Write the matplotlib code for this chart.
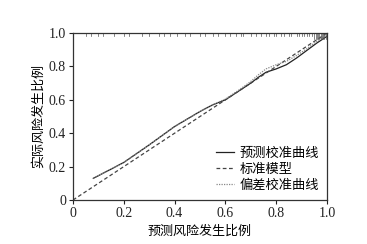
import matplotlib.pyplot as plt
from matplotlib.ticker import FuncFormatter

# calibration curves
pred_x = [0.08, 0.15, 0.2, 0.3, 0.4, 0.5, 0.55, 0.6, 0.65, 0.7, 0.73, 0.76, 0.8, 0.84, 0.88, 0.92, 0.96, 1.0]
pred_y = [0.13, 0.185, 0.225, 0.33, 0.44, 0.53, 0.57, 0.60, 0.65, 0.70, 0.735, 0.765, 0.785, 0.81, 0.85, 0.895, 0.94, 0.98]
bias_y = [0.13, 0.185, 0.225, 0.33, 0.44, 0.53, 0.57, 0.605, 0.655, 0.71, 0.75, 0.785, 0.81, 0.83, 0.865, 0.905, 0.95, 0.99]
ideal = [0, 1]

# rug of predicted values on the top edge
rug = [0.05, 0.07, 0.1, 0.12, 0.16, 0.2, 0.22, 0.27, 0.3, 0.34, 0.36, 0.38, 0.41, 0.44, 0.46,
       0.5, 0.52, 0.55, 0.57, 0.6, 0.62, 0.64, 0.66, 0.67, 0.7, 0.72, 0.74, 0.76, 0.77, 0.79,
       0.8, 0.82, 0.83, 0.85, 0.86, 0.88, 0.89, 0.9, 0.91, 0.92, 0.93, 0.94, 0.95, 0.955,
       0.96, 0.965, 0.97, 0.975, 0.98, 0.985, 0.99, 0.995]

plt.rcParams['font.family'] = ['Liberation Serif', 'Noto Sans CJK SC']
plt.rcParams['font.size'] = 10

fig = plt.figure(figsize=(3.67, 2.44), dpi=100)
ax = fig.add_axes([73 / 367, 44 / 244, 254 / 367, 167 / 244])

ax.plot(pred_x, pred_y, color='#222222', lw=0.9, label='预测校准曲线')
ax.plot(ideal, ideal, color='#444444', lw=0.9, ls=(0, (3, 2)), label='标准模型')
ax.plot(pred_x, bias_y, color='#888888', lw=0.9, ls=(0, (1, 1)), label='偏差校准曲线')

for r in rug:
    h = 0.035 if r > 0.94 else 0.015
    ax.plot([r, r], [1, 1 - h], color='#555555', lw=0.5)

ax.set_xlim(0, 1)
ax.set_ylim(0, 1)
ticks = [0, 0.2, 0.4, 0.6, 0.8, 1.0]
ax.set_xticks(ticks)
ax.set_yticks(ticks)
fmt = FuncFormatter(lambda v, p: '0' if v == 0 else f'{v:.1f}')
ax.xaxis.set_major_formatter(fmt)
ax.yaxis.set_major_formatter(fmt)
ax.tick_params(direction='out', length=3, width=0.8, pad=2, colors='#222222', labelsize=10)
for s in ax.spines.values():
    s.set_linewidth(0.9)
    s.set_color('#333333')

ax.set_xlabel('预测风险发生比例', fontsize=9.4, labelpad=4)
ax.set_ylabel('实际风险发生比例', fontsize=9.4, labelpad=3)

ax.legend(loc='lower right', frameon=False, fontsize=9.5, handlelength=1.4,
          handletextpad=0.4, labelspacing=0.3, borderaxespad=0.2)

fig.savefig('out.png', dpi=100)
